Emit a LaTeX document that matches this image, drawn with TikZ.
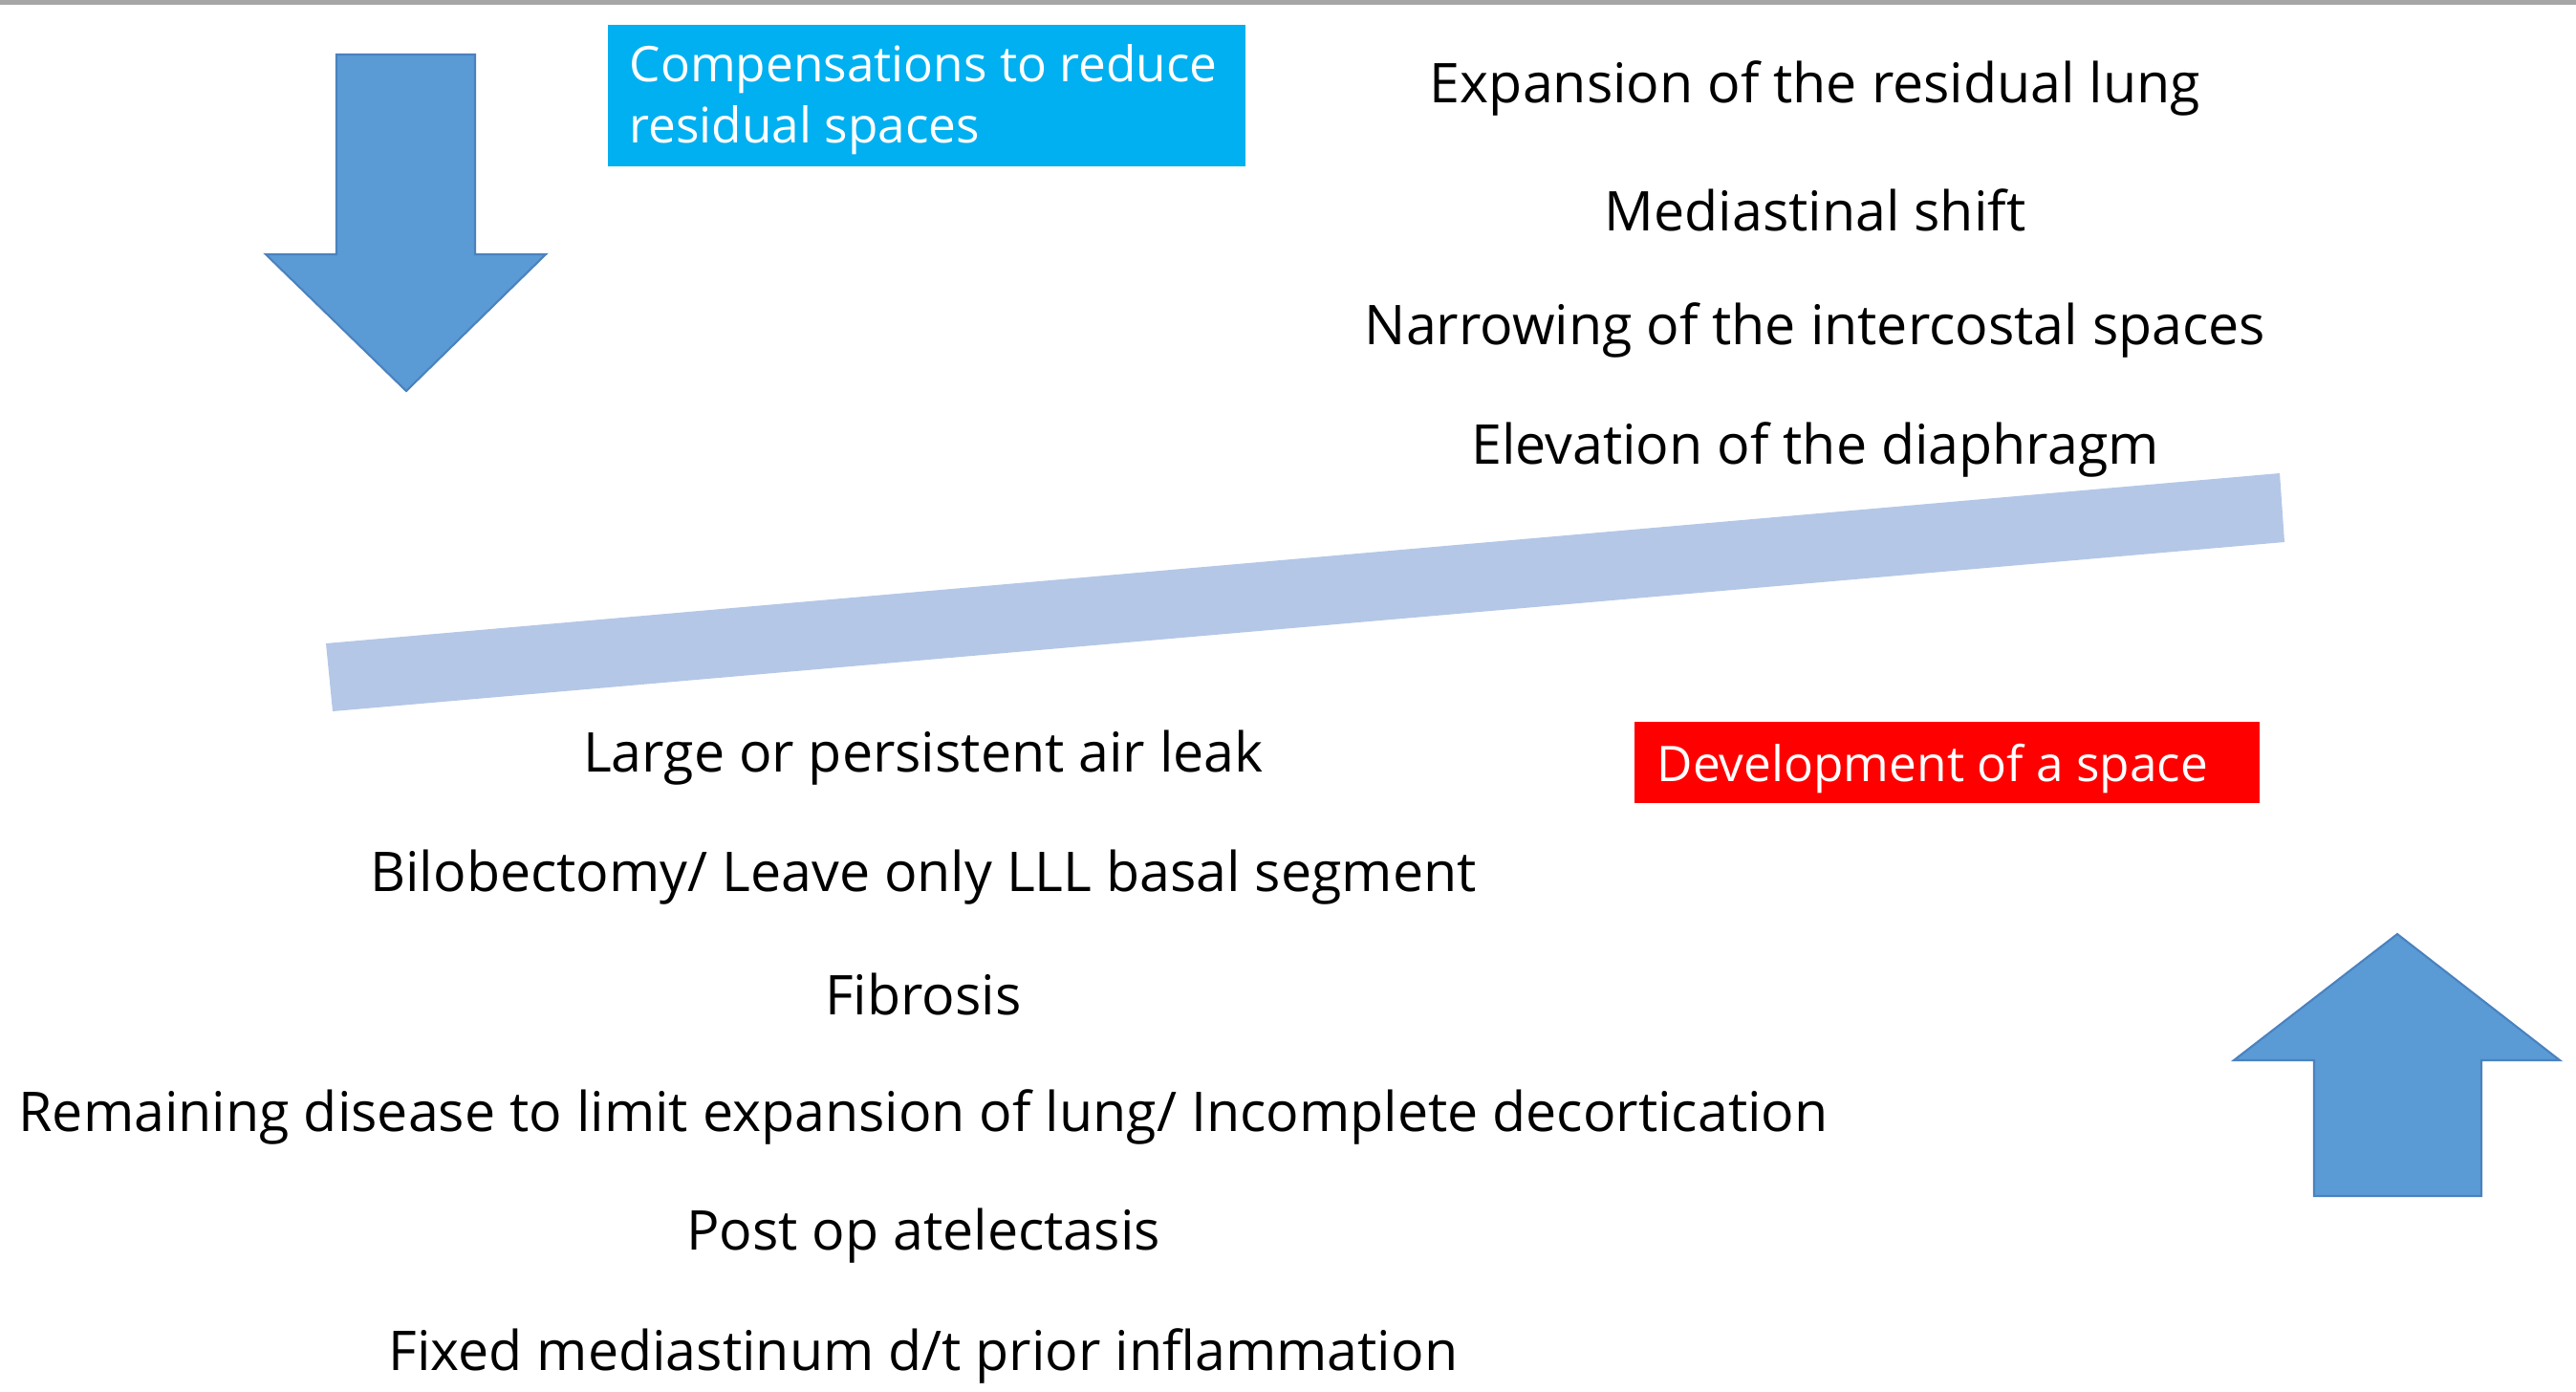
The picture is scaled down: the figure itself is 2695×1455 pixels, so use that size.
\documentclass[tikz,border=0pt]{standalone}
\usepackage{fontspec}
\setmainfont{Open Sans}
\usepackage{tikz}
\usepackage{xcolor}
\usetikzlibrary{positioning}
\definecolor{arrowblue}{HTML}{5B9BD5}
\definecolor{arrowedge}{HTML}{4A82BF}
\definecolor{boxcyan}{HTML}{00B0F0}
\definecolor{boxred}{HTML}{FF0000}
\definecolor{bandblue}{HTML}{B4C7E7}

\begin{document}
\begin{tikzpicture}[x=0.01cm,y=-0.01cm,
  item/.style={font=\fontsize{16.3}{19}\selectfont,text=black,inner sep=0pt},
  tag/.style={font=\fontsize{14.6}{18.2}\selectfont,text=white,align=left,inner sep=0pt,anchor=north west},
  bigarrow/.style={fill=arrowblue,draw=arrowedge,line width=0.6pt}]
\useasboundingbox (0,0) rectangle (2695,1455);
% Top rule
\fill[gray!70] (0,0) rectangle (2695,5);

% Arrow pointing down
\draw[bigarrow] (352,57) -- (497,57) -- (497,266) -- (571,266) -- (425,409) -- (278,266) -- (352,266) -- cycle;
% Arrow pointing up
\draw[bigarrow] (2421,1251) -- (2596,1251) -- (2596,1109) -- (2678,1109) -- (2508,977) -- (2337,1109) -- (2421,1109) -- cycle;

% Tilted band
\fill[bandblue] (341,673) -- (2385,495) -- (2390,567) -- (348,744) -- cycle;

% Labels in boxes
\fill[boxcyan] (636,26) rectangle (1303,174);
\node[tag] (comp) at (658,46) {Compensations to reduce\\residual spaces};
\fill[boxred] (1710,755) rectangle (2364,840);
\node[tag,anchor=west] (devel) at (1733,804) {Development of a space};

% Compensations
\node[item] (expand) at (1899,92) {Expansion of the residual lung};
\node[item] (shift) at (1899,220) {Mediastinal shift};
\node[item] (narrow) at (1899,345) {Narrowing of the intercostal spaces};
\node[item] (elev) at (1899,470) {Elevation of the diaphragm};

% Causes of a space
\node[item] (leak) at (966,793) {Large or persistent air leak};
\node[item] (bilob) at (966,918) {Bilobectomy/ Leave only LLL basal segment};
\node[item] (fibro) at (966,1040) {Fibrosis};
\node[item] (remain) at (966,1168) {Remaining disease to limit expansion of lung/ Incomplete decortication};
\node[item] (atel) at (966,1293) {Post op atelectasis};
\node[item] (fixed) at (966,1418) {Fixed mediastinum d/t prior inflammation};
\end{tikzpicture}
\end{document}
